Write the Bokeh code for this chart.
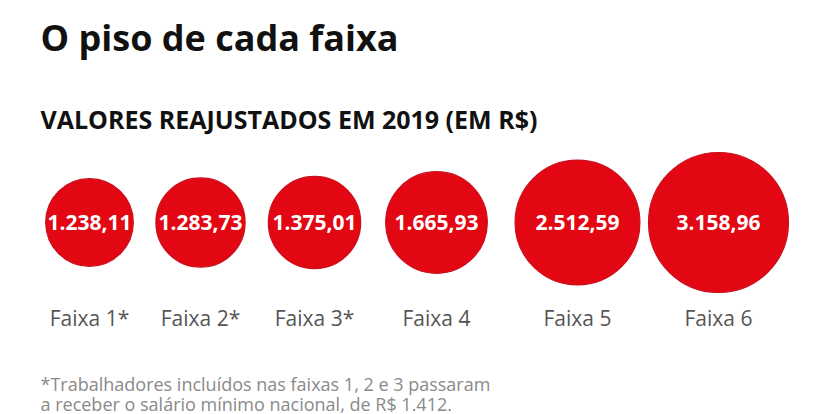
from bokeh.plotting import figure
from bokeh.models import Range1d, ColumnDataSource
from bokeh.core.properties import value
from bokeh.embed import file_html
from bokeh.resources import INLINE
import math

# ---- data ----
categories = ["Faixa 1*", "Faixa 2*", "Faixa 3*", "Faixa 4", "Faixa 5", "Faixa 6"]
values = [1238.11, 1283.73, 1375.01, 1665.93, 2512.59, 3158.96]
value_labels = ["1.238,11", "1.283,73", "1.375,01", "1.665,93", "2.512,59", "3.158,96"]
title_text = "O piso de cada faixa"
subtitle_text = "VALORES REAJUSTADOS EM 2019 (EM R$)"
note_lines = ["*Trabalhadores incluídos nas faixas 1, 2 e 3 passaram",
              "a receber o salário mínimo nacional, de R$ 1.412."]

# ---- layout (pixel space) ----
W, H = 828, 414
slot_x = [89, 200, 314, 436, 577, 718]   # column centres
row_y = 222
label_y = 317
k = 70.0 / math.sqrt(max(values))         # area-proportional bubbles

radii = [k * math.sqrt(v) for v in values]

p = figure(width=W, height=H, output_backend="svg", toolbar_location=None,
           x_range=Range1d(0, W), y_range=Range1d(H, 0),
           min_border=0, outline_line_color=None)
p.axis.visible = False
p.grid.visible = False
p.background_fill_color = "white"
p.border_fill_color = "white"

src = ColumnDataSource(dict(x=slot_x, y=[row_y] * len(values), r=radii,
                            lab=value_labels, cat=categories,
                            ly=[label_y] * len(values)))

p.circle(x="x", y="y", radius="r", source=src, fill_color="#e30613",
         line_color="#c8101e", line_width=1.2)
p.text(x="x", y="y", text="lab", source=src, text_color="white",
       text_font=value("Open Sans"), text_font_style="bold",
       text_font_size="21px", text_align="center", text_baseline="middle")
p.text(x="x", y="ly", text="cat", source=src, text_color="#555555",
       text_font=value("Open Sans"), text_font_size="21px",
       text_align="center", text_baseline="alphabetic")

p.text(x=[40], y=[37], text=[title_text], text_color="#111111",
       text_font=value("Open Sans"), text_font_style="bold",
       text_font_size="36px", text_baseline="alphabetic")
p.text(x=[40], y=[118], text=[subtitle_text], text_color="#111111",
       text_font=value("Open Sans"), text_font_style="bold",
       text_font_size="25px", text_baseline="alphabetic")
p.text(x=[40, 40], y=[383, 403], text=note_lines, text_color="#8a8a8a",
       text_font=value("Open Sans"), text_font_size="18px",
       text_baseline="alphabetic")

open("out.html", "w").write(file_html(p, INLINE))
